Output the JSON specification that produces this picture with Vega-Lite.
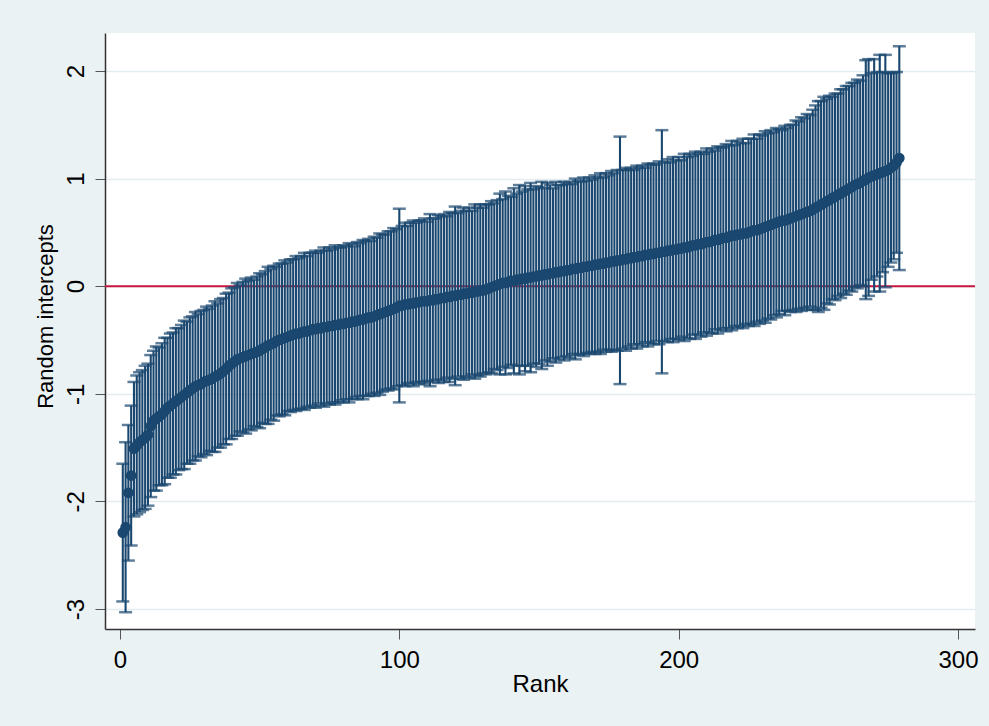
{
"$schema": "https://vega.github.io/schema/vega-lite/v6.json",
"width": 870,
"height": 596,
"autosize": {"type": "none"},
"padding": {"left": 105, "top": 33, "right": 14, "bottom": 97},
"background": "#EAF2F3",
"config": {
  "font": "Liberation Sans",
  "view": {"fill": "#ffffff", "stroke": null},
  "axis": {"domainColor": "#333333", "domainWidth": 1.5, "tickColor": "#555555", "tickWidth": 1, "tickSize": 10, "labelFontSize": 24, "labelColor": "#000000", "titleFontSize": 24, "titleFontWeight": "normal", "titleColor": "#000000", "labelFont": "Liberation Sans", "titleFont": "Liberation Sans", "labelExpr": "replace(datum.label, '\u2212', '-')"},
  "axisX": {"grid": false, "labelPadding": 9, "titlePadding": 0},
  "axisY": {"grid": true, "gridColor": "#E3ECEF", "gridWidth": 1.5, "labelAngle": 270, "labelAlign": "center", "labelBaseline": "alphabetic", "labelPadding": 12, "titleFontSize": 22, "titleX": -53, "titleY": 283, "titleAlign": "center", "titleBaseline": "alphabetic", "titleAngle": 270}
},
"datasets": {
"d": [
{"r":1,"e":-2.29,"lo":-2.93,"hi":-1.65},
{"r":2,"e":-2.24,"lo":-3.03,"hi":-1.45},
{"r":3,"e":-1.92,"lo":-2.55,"hi":-1.29},
{"r":4,"e":-1.76,"lo":-2.41,"hi":-1.11},
{"r":5,"e":-1.51,"lo":-2.14,"hi":-0.89},
{"r":6,"e":-1.48,"lo":-2.12,"hi":-0.83},
{"r":7,"e":-1.45,"lo":-2.10,"hi":-0.80},
{"r":8,"e":-1.43,"lo":-2.08,"hi":-0.78},
{"r":9,"e":-1.41,"lo":-2.07,"hi":-0.74},
{"r":10,"e":-1.38,"lo":-2.04,"hi":-0.72},
{"r":11,"e":-1.30,"lo":-1.96,"hi":-0.64},
{"r":12,"e":-1.25,"lo":-1.90,"hi":-0.60},
{"r":13,"e":-1.23,"lo":-1.90,"hi":-0.56},
{"r":14,"e":-1.21,"lo":-1.85,"hi":-0.57},
{"r":15,"e":-1.19,"lo":-1.85,"hi":-0.53},
{"r":16,"e":-1.16,"lo":-1.84,"hi":-0.48},
{"r":17,"e":-1.13,"lo":-1.78,"hi":-0.48},
{"r":18,"e":-1.11,"lo":-1.78,"hi":-0.44},
{"r":19,"e":-1.09,"lo":-1.75,"hi":-0.43},
{"r":20,"e":-1.07,"lo":-1.75,"hi":-0.39},
{"r":21,"e":-1.05,"lo":-1.71,"hi":-0.39},
{"r":22,"e":-1.03,"lo":-1.70,"hi":-0.36},
{"r":23,"e":-1.01,"lo":-1.70,"hi":-0.32},
{"r":24,"e":-0.99,"lo":-1.65,"hi":-0.33},
{"r":25,"e":-0.97,"lo":-1.65,"hi":-0.29},
{"r":26,"e":-0.95,"lo":-1.62,"hi":-0.28},
{"r":27,"e":-0.93,"lo":-1.62,"hi":-0.24},
{"r":28,"e":-0.92,"lo":-1.58,"hi":-0.26},
{"r":29,"e":-0.91,"lo":-1.59,"hi":-0.23},
{"r":30,"e":-0.89,"lo":-1.56,"hi":-0.22},
{"r":31,"e":-0.88,"lo":-1.57,"hi":-0.19},
{"r":32,"e":-0.87,"lo":-1.53,"hi":-0.21},
{"r":33,"e":-0.86,"lo":-1.54,"hi":-0.18},
{"r":34,"e":-0.84,"lo":-1.54,"hi":-0.14},
{"r":35,"e":-0.83,"lo":-1.50,"hi":-0.16},
{"r":36,"e":-0.81,"lo":-1.50,"hi":-0.12},
{"r":37,"e":-0.79,"lo":-1.47,"hi":-0.11},
{"r":38,"e":-0.77,"lo":-1.47,"hi":-0.07},
{"r":39,"e":-0.74,"lo":-1.42,"hi":-0.06},
{"r":40,"e":-0.72,"lo":-1.42,"hi":-0.02},
{"r":41,"e":-0.70,"lo":-1.39,"hi":-0.01},
{"r":42,"e":-0.68,"lo":-1.39,"hi":0.03},
{"r":43,"e":-0.67,"lo":-1.35,"hi":0.01},
{"r":44,"e":-0.66,"lo":-1.36,"hi":0.04},
{"r":45,"e":-0.65,"lo":-1.37,"hi":0.07},
{"r":46,"e":-0.64,"lo":-1.33,"hi":0.05},
{"r":47,"e":-0.63,"lo":-1.34,"hi":0.08},
{"r":48,"e":-0.62,"lo":-1.30,"hi":0.06},
{"r":49,"e":-0.61,"lo":-1.31,"hi":0.09},
{"r":50,"e":-0.60,"lo":-1.32,"hi":0.12},
{"r":51,"e":-0.58,"lo":-1.27,"hi":0.11},
{"r":52,"e":-0.57,"lo":-1.28,"hi":0.14},
{"r":53,"e":-0.55,"lo":-1.28,"hi":0.18},
{"r":54,"e":-0.54,"lo":-1.24,"hi":0.16},
{"r":55,"e":-0.53,"lo":-1.25,"hi":0.19},
{"r":56,"e":-0.51,"lo":-1.20,"hi":0.18},
{"r":57,"e":-0.50,"lo":-1.21,"hi":0.21},
{"r":58,"e":-0.49,"lo":-1.19,"hi":0.21},
{"r":59,"e":-0.48,"lo":-1.20,"hi":0.24},
{"r":60,"e":-0.47,"lo":-1.16,"hi":0.22},
{"r":61,"e":-0.46,"lo":-1.17,"hi":0.25},
{"r":62,"e":-0.45,"lo":-1.15,"hi":0.25},
{"r":63,"e":-0.44,"lo":-1.16,"hi":0.28},
{"r":64,"e":-0.44,"lo":-1.14,"hi":0.26},
{"r":65,"e":-0.43,"lo":-1.14,"hi":0.28},
{"r":66,"e":-0.42,"lo":-1.15,"hi":0.31},
{"r":67,"e":-0.42,"lo":-1.12,"hi":0.28},
{"r":68,"e":-0.41,"lo":-1.13,"hi":0.31},
{"r":69,"e":-0.40,"lo":-1.11,"hi":0.31},
{"r":70,"e":-0.40,"lo":-1.13,"hi":0.33},
{"r":71,"e":-0.39,"lo":-1.09,"hi":0.31},
{"r":72,"e":-0.39,"lo":-1.11,"hi":0.33},
{"r":73,"e":-0.38,"lo":-1.12,"hi":0.36},
{"r":74,"e":-0.38,"lo":-1.09,"hi":0.33},
{"r":75,"e":-0.37,"lo":-1.10,"hi":0.36},
{"r":76,"e":-0.37,"lo":-1.08,"hi":0.34},
{"r":77,"e":-0.36,"lo":-1.10,"hi":0.38},
{"r":78,"e":-0.36,"lo":-1.08,"hi":0.36},
{"r":79,"e":-0.35,"lo":-1.06,"hi":0.36},
{"r":80,"e":-0.35,"lo":-1.08,"hi":0.38},
{"r":81,"e":-0.34,"lo":-1.05,"hi":0.37},
{"r":82,"e":-0.34,"lo":-1.08,"hi":0.40},
{"r":83,"e":-0.33,"lo":-1.05,"hi":0.39},
{"r":84,"e":-0.33,"lo":-1.03,"hi":0.37},
{"r":85,"e":-0.32,"lo":-1.05,"hi":0.41},
{"r":86,"e":-0.31,"lo":-1.02,"hi":0.40},
{"r":87,"e":-0.31,"lo":-1.05,"hi":0.43},
{"r":88,"e":-0.30,"lo":-1.02,"hi":0.42},
{"r":89,"e":-0.29,"lo":-1.02,"hi":0.44},
{"r":90,"e":-0.29,"lo":-1.00,"hi":0.42},
{"r":91,"e":-0.28,"lo":-1.02,"hi":0.46},
{"r":92,"e":-0.27,"lo":-0.99,"hi":0.45},
{"r":93,"e":-0.26,"lo":-1.01,"hi":0.49},
{"r":94,"e":-0.25,"lo":-0.98,"hi":0.48},
{"r":95,"e":-0.24,"lo":-0.96,"hi":0.48},
{"r":96,"e":-0.23,"lo":-0.97,"hi":0.51},
{"r":97,"e":-0.22,"lo":-0.95,"hi":0.51},
{"r":98,"e":-0.21,"lo":-0.96,"hi":0.54},
{"r":99,"e":-0.20,"lo":-0.93,"hi":0.53},
{"r":100,"e":-0.18,"lo":-1.08,"hi":0.72},
{"r":101,"e":-0.18,"lo":-0.92,"hi":0.56},
{"r":102,"e":-0.17,"lo":-0.93,"hi":0.59},
{"r":103,"e":-0.17,"lo":-0.90,"hi":0.56},
{"r":104,"e":-0.16,"lo":-0.91,"hi":0.59},
{"r":105,"e":-0.16,"lo":-0.93,"hi":0.61},
{"r":106,"e":-0.15,"lo":-0.89,"hi":0.59},
{"r":107,"e":-0.15,"lo":-0.91,"hi":0.61},
{"r":108,"e":-0.14,"lo":-0.89,"hi":0.61},
{"r":109,"e":-0.14,"lo":-0.91,"hi":0.63},
{"r":110,"e":-0.14,"lo":-0.88,"hi":0.60},
{"r":111,"e":-0.13,"lo":-0.93,"hi":0.67},
{"r":112,"e":-0.13,"lo":-0.89,"hi":0.63},
{"r":113,"e":-0.12,"lo":-0.87,"hi":0.63},
{"r":114,"e":-0.12,"lo":-0.90,"hi":0.66},
{"r":115,"e":-0.11,"lo":-0.87,"hi":0.65},
{"r":116,"e":-0.11,"lo":-0.89,"hi":0.67},
{"r":117,"e":-0.10,"lo":-0.85,"hi":0.65},
{"r":118,"e":-0.10,"lo":-0.89,"hi":0.69},
{"r":119,"e":-0.09,"lo":-0.86,"hi":0.68},
{"r":120,"e":-0.09,"lo":-0.92,"hi":0.74},
{"r":121,"e":-0.08,"lo":-0.84,"hi":0.68},
{"r":122,"e":-0.08,"lo":-0.86,"hi":0.70},
{"r":123,"e":-0.07,"lo":-0.87,"hi":0.73},
{"r":124,"e":-0.07,"lo":-0.84,"hi":0.70},
{"r":125,"e":-0.06,"lo":-0.85,"hi":0.73},
{"r":126,"e":-0.06,"lo":-0.82,"hi":0.70},
{"r":127,"e":-0.05,"lo":-0.86,"hi":0.76},
{"r":128,"e":-0.05,"lo":-0.83,"hi":0.73},
{"r":129,"e":-0.04,"lo":-0.84,"hi":0.76},
{"r":130,"e":-0.04,"lo":-0.81,"hi":0.73},
{"r":131,"e":-0.03,"lo":-0.82,"hi":0.76},
{"r":132,"e":-0.02,"lo":-0.80,"hi":0.76},
{"r":133,"e":-0.01,"lo":-0.81,"hi":0.79},
{"r":134,"e":0.00,"lo":-0.77,"hi":0.77},
{"r":135,"e":0.01,"lo":-0.78,"hi":0.80},
{"r":136,"e":0.02,"lo":-0.82,"hi":0.86},
{"r":137,"e":0.03,"lo":-0.75,"hi":0.81},
{"r":138,"e":0.03,"lo":-0.82,"hi":0.88},
{"r":139,"e":0.04,"lo":-0.76,"hi":0.84},
{"r":140,"e":0.05,"lo":-0.73,"hi":0.83},
{"r":141,"e":0.05,"lo":-0.81,"hi":0.91},
{"r":142,"e":0.06,"lo":-0.74,"hi":0.86},
{"r":143,"e":0.06,"lo":-0.82,"hi":0.94},
{"r":144,"e":0.07,"lo":-0.74,"hi":0.88},
{"r":145,"e":0.07,"lo":-0.79,"hi":0.93},
{"r":146,"e":0.08,"lo":-0.74,"hi":0.90},
{"r":147,"e":0.08,"lo":-0.80,"hi":0.96},
{"r":148,"e":0.09,"lo":-0.72,"hi":0.90},
{"r":149,"e":0.09,"lo":-0.75,"hi":0.93},
{"r":150,"e":0.10,"lo":-0.72,"hi":0.92},
{"r":151,"e":0.10,"lo":-0.77,"hi":0.97},
{"r":152,"e":0.11,"lo":-0.69,"hi":0.91},
{"r":153,"e":0.11,"lo":-0.74,"hi":0.96},
{"r":154,"e":0.12,"lo":-0.70,"hi":0.94},
{"r":155,"e":0.12,"lo":-0.67,"hi":0.91},
{"r":156,"e":0.13,"lo":-0.71,"hi":0.97},
{"r":157,"e":0.13,"lo":-0.68,"hi":0.94},
{"r":158,"e":0.14,"lo":-0.66,"hi":0.94},
{"r":159,"e":0.14,"lo":-0.69,"hi":0.97},
{"r":160,"e":0.15,"lo":-0.65,"hi":0.95},
{"r":161,"e":0.15,"lo":-0.67,"hi":0.97},
{"r":162,"e":0.16,"lo":-0.63,"hi":0.95},
{"r":163,"e":0.16,"lo":-0.68,"hi":1.00},
{"r":164,"e":0.17,"lo":-0.64,"hi":0.98},
{"r":165,"e":0.17,"lo":-0.63,"hi":0.97},
{"r":166,"e":0.18,"lo":-0.65,"hi":1.01},
{"r":167,"e":0.18,"lo":-0.62,"hi":0.98},
{"r":168,"e":0.19,"lo":-0.63,"hi":1.01},
{"r":169,"e":0.19,"lo":-0.61,"hi":0.99},
{"r":170,"e":0.20,"lo":-0.63,"hi":1.03},
{"r":171,"e":0.20,"lo":-0.61,"hi":1.01},
{"r":172,"e":0.21,"lo":-0.63,"hi":1.05},
{"r":173,"e":0.21,"lo":-0.59,"hi":1.01},
{"r":174,"e":0.22,"lo":-0.61,"hi":1.05},
{"r":175,"e":0.22,"lo":-0.59,"hi":1.03},
{"r":176,"e":0.23,"lo":-0.61,"hi":1.07},
{"r":177,"e":0.23,"lo":-0.59,"hi":1.05},
{"r":178,"e":0.24,"lo":-0.60,"hi":1.08},
{"r":179,"e":0.24,"lo":-0.91,"hi":1.39},
{"r":180,"e":0.25,"lo":-0.58,"hi":1.08},
{"r":181,"e":0.25,"lo":-0.60,"hi":1.10},
{"r":182,"e":0.26,"lo":-0.56,"hi":1.08},
{"r":183,"e":0.26,"lo":-0.58,"hi":1.10},
{"r":184,"e":0.27,"lo":-0.54,"hi":1.08},
{"r":185,"e":0.27,"lo":-0.58,"hi":1.12},
{"r":186,"e":0.28,"lo":-0.54,"hi":1.10},
{"r":187,"e":0.28,"lo":-0.56,"hi":1.12},
{"r":188,"e":0.29,"lo":-0.52,"hi":1.10},
{"r":189,"e":0.29,"lo":-0.56,"hi":1.14},
{"r":190,"e":0.30,"lo":-0.53,"hi":1.13},
{"r":191,"e":0.30,"lo":-0.54,"hi":1.14},
{"r":192,"e":0.31,"lo":-0.51,"hi":1.13},
{"r":193,"e":0.31,"lo":-0.54,"hi":1.16},
{"r":194,"e":0.32,"lo":-0.81,"hi":1.45},
{"r":195,"e":0.32,"lo":-0.51,"hi":1.15},
{"r":196,"e":0.33,"lo":-0.52,"hi":1.18},
{"r":197,"e":0.33,"lo":-0.49,"hi":1.15},
{"r":198,"e":0.34,"lo":-0.52,"hi":1.20},
{"r":199,"e":0.34,"lo":-0.49,"hi":1.17},
{"r":200,"e":0.35,"lo":-0.50,"hi":1.20},
{"r":201,"e":0.35,"lo":-0.47,"hi":1.17},
{"r":202,"e":0.36,"lo":-0.51,"hi":1.23},
{"r":203,"e":0.36,"lo":-0.48,"hi":1.20},
{"r":204,"e":0.37,"lo":-0.49,"hi":1.23},
{"r":205,"e":0.38,"lo":-0.45,"hi":1.21},
{"r":206,"e":0.38,"lo":-0.49,"hi":1.25},
{"r":207,"e":0.39,"lo":-0.45,"hi":1.23},
{"r":208,"e":0.39,"lo":-0.47,"hi":1.25},
{"r":209,"e":0.40,"lo":-0.43,"hi":1.23},
{"r":210,"e":0.41,"lo":-0.46,"hi":1.28},
{"r":211,"e":0.41,"lo":-0.43,"hi":1.25},
{"r":212,"e":0.42,"lo":-0.44,"hi":1.28},
{"r":213,"e":0.43,"lo":-0.40,"hi":1.26},
{"r":214,"e":0.43,"lo":-0.44,"hi":1.30},
{"r":215,"e":0.44,"lo":-0.41,"hi":1.29},
{"r":216,"e":0.45,"lo":-0.39,"hi":1.29},
{"r":217,"e":0.45,"lo":-0.42,"hi":1.32},
{"r":218,"e":0.46,"lo":-0.39,"hi":1.31},
{"r":219,"e":0.47,"lo":-0.41,"hi":1.35},
{"r":220,"e":0.47,"lo":-0.37,"hi":1.31},
{"r":221,"e":0.48,"lo":-0.39,"hi":1.35},
{"r":222,"e":0.48,"lo":-0.37,"hi":1.33},
{"r":223,"e":0.49,"lo":-0.39,"hi":1.37},
{"r":224,"e":0.49,"lo":-0.35,"hi":1.33},
{"r":225,"e":0.50,"lo":-0.37,"hi":1.37},
{"r":226,"e":0.51,"lo":-0.35,"hi":1.37},
{"r":227,"e":0.52,"lo":-0.37,"hi":1.41},
{"r":228,"e":0.52,"lo":-0.33,"hi":1.37},
{"r":229,"e":0.53,"lo":-0.35,"hi":1.41},
{"r":230,"e":0.54,"lo":-0.32,"hi":1.40},
{"r":231,"e":0.55,"lo":-0.34,"hi":1.44},
{"r":232,"e":0.56,"lo":-0.30,"hi":1.42},
{"r":233,"e":0.57,"lo":-0.31,"hi":1.45},
{"r":234,"e":0.58,"lo":-0.27,"hi":1.43},
{"r":235,"e":0.59,"lo":-0.29,"hi":1.47},
{"r":236,"e":0.60,"lo":-0.26,"hi":1.46},
{"r":237,"e":0.61,"lo":-0.23,"hi":1.45},
{"r":238,"e":0.61,"lo":-0.27,"hi":1.49},
{"r":239,"e":0.62,"lo":-0.23,"hi":1.47},
{"r":240,"e":0.63,"lo":-0.24,"hi":1.50},
{"r":241,"e":0.64,"lo":-0.22,"hi":1.50},
{"r":242,"e":0.65,"lo":-0.24,"hi":1.54},
{"r":243,"e":0.66,"lo":-0.21,"hi":1.53},
{"r":244,"e":0.67,"lo":-0.23,"hi":1.57},
{"r":245,"e":0.68,"lo":-0.20,"hi":1.56},
{"r":246,"e":0.69,"lo":-0.22,"hi":1.60},
{"r":247,"e":0.70,"lo":-0.19,"hi":1.59},
{"r":248,"e":0.71,"lo":-0.22,"hi":1.64},
{"r":249,"e":0.73,"lo":-0.22,"hi":1.68},
{"r":250,"e":0.74,"lo":-0.24,"hi":1.72},
{"r":251,"e":0.76,"lo":-0.20,"hi":1.72},
{"r":252,"e":0.77,"lo":-0.22,"hi":1.76},
{"r":253,"e":0.79,"lo":-0.16,"hi":1.74},
{"r":254,"e":0.80,"lo":-0.17,"hi":1.77},
{"r":255,"e":0.82,"lo":-0.12,"hi":1.76},
{"r":256,"e":0.83,"lo":-0.13,"hi":1.79},
{"r":257,"e":0.85,"lo":-0.09,"hi":1.79},
{"r":258,"e":0.86,"lo":-0.11,"hi":1.83},
{"r":259,"e":0.88,"lo":-0.07,"hi":1.83},
{"r":260,"e":0.89,"lo":-0.08,"hi":1.86},
{"r":261,"e":0.91,"lo":-0.04,"hi":1.86},
{"r":262,"e":0.92,"lo":-0.05,"hi":1.89},
{"r":263,"e":0.94,"lo":-0.01,"hi":1.89},
{"r":264,"e":0.95,"lo":-0.02,"hi":1.92},
{"r":265,"e":0.96,"lo":0.01,"hi":1.91},
{"r":266,"e":0.98,"lo":0.00,"hi":1.96},
{"r":267,"e":0.99,"lo":-0.12,"hi":2.10},
{"r":268,"e":1.01,"lo":-0.09,"hi":2.11},
{"r":269,"e":1.02,"lo":0.06,"hi":1.98},
{"r":270,"e":1.03,"lo":-0.05,"hi":2.11},
{"r":271,"e":1.04,"lo":0.09,"hi":1.99},
{"r":272,"e":1.05,"lo":-0.05,"hi":2.15},
{"r":273,"e":1.06,"lo":0.13,"hi":1.99},
{"r":274,"e":1.07,"lo":-0.01,"hi":2.15},
{"r":275,"e":1.08,"lo":0.18,"hi":1.98},
{"r":276,"e":1.10,"lo":0.22,"hi":1.98},
{"r":277,"e":1.12,"lo":0.25,"hi":1.99},
{"r":278,"e":1.15,"lo":0.31,"hi":1.99},
{"r":279,"e":1.19,"lo":0.15,"hi":2.23}
],
"zero": [{"z": 0}]
},
"layer": [
  {
    "data": {"name": "zero"},
    "mark": {"type": "rule", "color": "#C8173F", "strokeWidth": 2},
    "encoding": {
      "y": {"field": "z", "type": "quantitative", "scale": {"domain": [-3.186, 2.353], "nice": false, "zero": false}, "axis": {"values": [-3, -2, -1, 0, 1, 2]}, "title": "Random intercepts"}
    }
  },
  {
    "data": {"name": "d"},
    "mark": {"type": "rule", "color": "#1A476F", "strokeWidth": 2.1},
    "encoding": {
      "x": {"field": "r", "type": "quantitative", "scale": {"domain": [-5.37, 306.1], "nice": false, "zero": false}, "axis": {"values": [0, 100, 200, 300]}, "title": "Rank"},
      "y": {"field": "lo", "type": "quantitative", "scale": {"domain": [-3.186, 2.353], "nice": false, "zero": false}, "axis": {"values": [-3, -2, -1, 0, 1, 2]}, "title": "Random intercepts"},
      "y2": {"field": "hi"}
    }
  },
  {
    "data": {"name": "d"},
    "mark": {"type": "tick", "orient": "horizontal", "color": "#1A476F", "size": 13, "thickness": 2.5},
    "encoding": {
      "x": {"field": "r", "type": "quantitative", "scale": {"domain": [-5.37, 306.1], "nice": false, "zero": false}, "axis": {"values": [0, 100, 200, 300]}, "title": "Rank"},
      "y": {"field": "lo", "type": "quantitative", "scale": {"domain": [-3.186, 2.353], "nice": false, "zero": false}, "axis": {"values": [-3, -2, -1, 0, 1, 2]}, "title": "Random intercepts"}
    }
  },
  {
    "data": {"name": "d"},
    "mark": {"type": "tick", "orient": "horizontal", "color": "#1A476F", "size": 13, "thickness": 2.5},
    "encoding": {
      "x": {"field": "r", "type": "quantitative", "scale": {"domain": [-5.37, 306.1], "nice": false, "zero": false}, "axis": {"values": [0, 100, 200, 300]}, "title": "Rank"},
      "y": {"field": "hi", "type": "quantitative", "scale": {"domain": [-3.186, 2.353], "nice": false, "zero": false}, "axis": {"values": [-3, -2, -1, 0, 1, 2]}, "title": "Random intercepts"}
    }
  },
  {
    "data": {"name": "d"},
    "mark": {"type": "circle", "color": "#1A476F", "size": 115, "opacity": 1},
    "encoding": {
      "x": {"field": "r", "type": "quantitative", "scale": {"domain": [-5.37, 306.1], "nice": false, "zero": false}, "axis": {"values": [0, 100, 200, 300]}, "title": "Rank"},
      "y": {"field": "e", "type": "quantitative", "scale": {"domain": [-3.186, 2.353], "nice": false, "zero": false}, "axis": {"values": [-3, -2, -1, 0, 1, 2]}, "title": "Random intercepts"}
    }
  }
]
}
